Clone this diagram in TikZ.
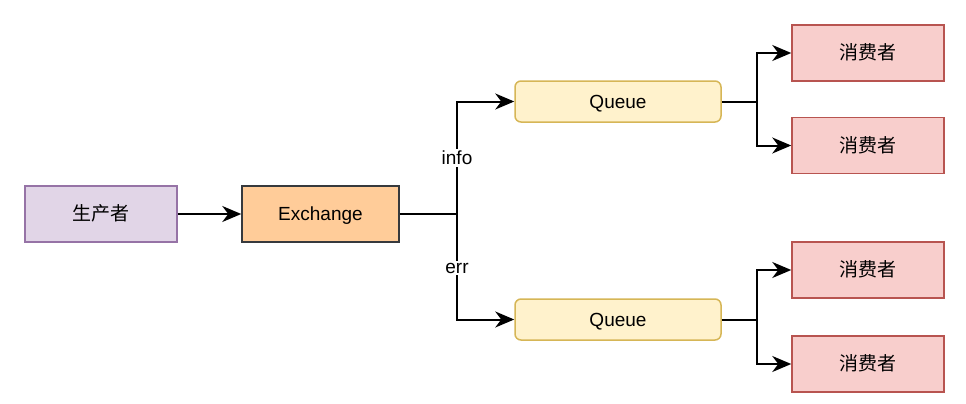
\documentclass[tikz,border=0pt]{standalone}
\usepackage{fontspec}
\setmainfont{Liberation Sans}
\newfontfamily\cjk{Noto Sans CJK SC}
\usetikzlibrary{arrows.meta}
\definecolor{prodfill}{HTML}{E1D5E7}
\definecolor{prodline}{HTML}{9673A6}
\definecolor{exfill}{HTML}{FFCC99}
\definecolor{exline}{HTML}{36393D}
\definecolor{qfill}{HTML}{FFF2CC}
\definecolor{qline}{HTML}{D6B656}
\definecolor{cfill}{HTML}{F8CECC}
\definecolor{cline}{HTML}{B85450}
\tikzset{
  box/.style={draw, line width=1.5pt, inner sep=0pt, text height=13.6pt, text depth=0pt,
    font=\fontsize{19}{22}\selectfont},
  prodbox/.style={box, fill=prodfill, draw=prodline, minimum width=152pt, minimum height=56pt},
  exbox/.style={box, fill=exfill, draw=exline, minimum width=157pt, minimum height=56pt},
  qbox/.style={box, fill=qfill, draw=qline, rounded corners=6pt, minimum width=206pt, minimum height=41pt},
  cbox/.style={box, fill=cfill, draw=cline, minimum width=152pt, minimum height=56pt},
  link/.style={line width=2pt, -{Stealth[length=19pt, width=16pt, inset=6pt]}},
  tag/.style={fill=white, inner sep=2pt, font=\fontsize{19}{22}\selectfont}
}
\begin{document}
\begin{tikzpicture}[x=1pt, y=-1pt]
\useasboundingbox (0,0) rectangle (966,404);
% producer and exchange
\node[prodbox] (prod) at (101,214) {\cjk 生产者};
\node[exbox] (ex) at (320.5,214) {Exchange};
% queues
\node[qbox] (q1) at (618,101.5) {Queue};
\node[qbox] (q2) at (618,319.5) {Queue};
% consumers
\node[cbox] (c1) at (868,53) {\cjk 消费者};
\node[cbox] (c2) at (868,145.5) {\cjk 消费者};
\node[cbox] (c3) at (868,270) {\cjk 消费者};
\node[cbox] (c4) at (868,364) {\cjk 消费者};
% junctions
\coordinate (jx) at (457,214);
\coordinate (j1) at (757,101.5);
\coordinate (j2) at (757,319.5);
\draw[link] (prod) -- (ex);
\draw[link] (ex.east) -- (jx) |- (q1.west);
\draw[link] (ex.east) -- (jx) |- (q2.west);
\node[tag] (info) at (457,158) {info};
\node[tag] (err) at (457,268) {err};
\draw[link] (q1.east) -- (j1) |- (c1.west);
\draw[link] (q1.east) -- (j1) |- (c2.west);
\draw[link] (q2.east) -- (j2) |- (c3.west);
\draw[link] (q2.east) -- (j2) |- (c4.west);
\end{tikzpicture}
\end{document}
